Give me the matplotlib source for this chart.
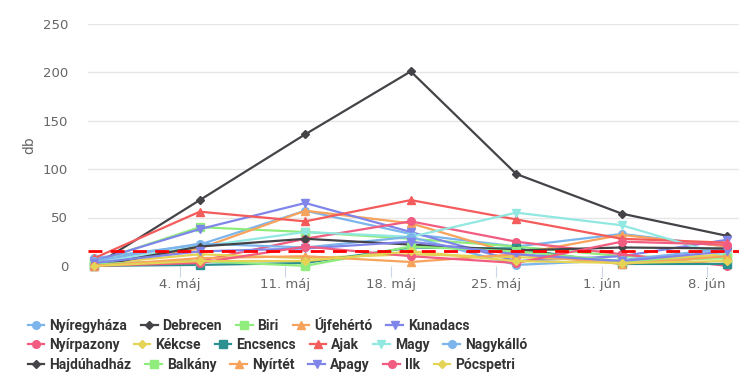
import matplotlib
matplotlib.use('Agg')
import matplotlib.pyplot as plt
from matplotlib.font_manager import fontManager
import pandas as pd

names = [f.name for f in fontManager.ttflist]
LEG_FONT = 'Liberation Sans Narrow' if 'Liberation Sans Narrow' in names else 'Roboto'

plt.rcParams.update({
    'font.family': ['DejaVu Sans'],
    'font.size': 9,
})

# ── data (weekly counts) ─────────────────────────────────────────────
dates = pd.to_datetime(['2020-04-28 08:00', '2020-05-05 08:00', '2020-05-12 08:00',
                        '2020-05-19 08:00', '2020-05-26 08:00', '2020-06-02 08:00',
                        '2020-06-09 08:00'])

nyiregyhaza = [8, 22, 57, 33, 20, 33, 20]
debrecen    = [0, 68, 136, 201, 95, 54, 31]
biri        = [4, 40, 35, 28, 20, 10, 8]
ujfeherto   = [0, 18, 57, 44, 12, 32, 20]
kunadacs    = [5, 38, 65, 35, 5, 10, 27]
nyirpazony  = [2, 5, 28, 46, 25, 12, 0]
kekcse      = [2, 12, 8, 12, 9, 5, 12]
encsencs    = [0, 1, 3, 19, 18, 2, 2]
ajak        = [8, 56, 46, 68, 48, 28, 24]
magy        = [3, 20, 35, 30, 55, 42, 10]
nagykallo   = [5, 23, 19, 30, 1, 6, 18]
hajduhadhaz = [0, 20, 28, 22, 16, 19, 18]
balkany     = [2, 5, 0, 20, 15, 5, 8]
nyirtet     = [0, 8, 10, 4, 12, 2, 10]
apagy       = [3, 15, 18, 25, 12, 5, 15]
ilk         = [0, 3, 20, 10, 3, 25, 22]
pocspetri   = [0, 5, 5, 15, 5, 3, 5]
threshold   = 15

series = [
    ('Nyíregyháza', nyiregyhaza, '#7cb5ec', 'o'),
    ('Debrecen',    debrecen,    '#434348', 'D'),
    ('Biri',        biri,        '#90ed7d', 's'),
    ('Újfehértó',   ujfeherto,   '#f7a35c', '^'),
    ('Kunadacs',    kunadacs,    '#8085e9', 'v'),
    ('Nyírpazony',  nyirpazony,  '#f15c80', 'o'),
    ('Kékcse',      kekcse,      '#e4d354', 'D'),
    ('Encsencs',    encsencs,    '#2b908f', 's'),
    ('Ajak',        ajak,        '#f45b5b', '^'),
    ('Magy',        magy,        '#91e8e1', 'v'),
    ('Nagykálló',   nagykallo,   '#7cb5ec', 'o'),
    ('Hajdúhadház', hajduhadhaz, '#434348', 'D'),
    ('Balkány',     balkany,     '#90ed7d', 's'),
    ('Nyírtét',     nyirtet,     '#f7a35c', '^'),
    ('Apagy',       apagy,       '#8085e9', 'v'),
    ('Ilk',         ilk,         '#f15c80', 'o'),
    ('Pócspetri',   pocspetri,   '#e4d354', 'D'),
]
rows = [5, 6, 6]

fig = plt.figure(figsize=(7.5, 3.75), dpi=100)
ax = fig.add_axes([0.117, 0.291, 0.868, 0.645])

handles = []
for name, vals, col, mk in series:
    ms = 4.5 if mk == 'D' else 5.5
    h, = ax.plot(dates, vals, color=col, lw=1.6, marker=mk, ms=ms,
                 mec=col, mfc=col, label=name, clip_on=False, zorder=3)
    handles.append(h)

ax.axhline(threshold, color='#ff0000', lw=2, ls=(0, (5, 3)), zorder=4)

ax.set_ylim(0, 250)
ax.set_yticks(range(0, 251, 50))
x0 = pd.Timestamp('2020-05-04')
ax.set_xlim(x0 - pd.Timedelta(days=6.1), x0 + pd.Timedelta(days=37.1))
ax.set_xticks(pd.date_range('2020-05-04', periods=6, freq='7D'))
ax.set_xticklabels(['4. máj', '11. máj', '18. máj', '25. máj', '1. jún', '8. jún'])

ax.grid(axis='y', color='#e6e6e6', lw=1)
ax.set_axisbelow(True)
for s in ax.spines.values():
    s.set_visible(False)
ax.tick_params(axis='y', length=0, pad=14, labelcolor='#666666', labelsize=9.5)
ax.tick_params(axis='x', length=8, width=0.8, color='#ccd6eb', pad=1,
               labelcolor='#666666', labelsize=9.5)
ax.set_ylabel('db', color='#666666', fontsize=10, labelpad=5)

# legend: one row per fig.legend, like the flowing html legend
start = 0
ys = [0.133, 0.080, 0.027]
for n, y in zip(rows, ys):
    leg = fig.legend(handles=handles[start:start + n], loc='center left',
                     bbox_to_anchor=(0.037, y), ncol=n, frameon=False,
                     borderpad=0, borderaxespad=0, handlelength=1.2,
                     handletextpad=0.35, columnspacing=1.0,
                     prop={'family': LEG_FONT, 'weight': 'bold', 'size': 10})
    for t in leg.get_texts():
        t.set_color('#333333')
    start += n

fig.savefig('out.png', dpi=100)
